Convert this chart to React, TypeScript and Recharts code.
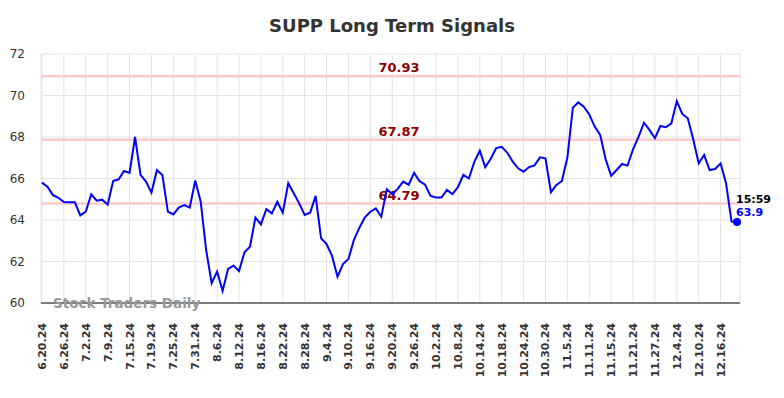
import { LineChart, Line, XAxis, YAxis, CartesianGrid, ReferenceLine } from 'recharts';

// trading days shown on the chart
const dates = [
  '6.20.24', '6.21.24', '6.24.24', '6.25.24', '6.26.24', '6.27.24', '6.28.24',
  '7.1.24', '7.2.24', '7.3.24', '7.5.24', '7.8.24', '7.9.24', '7.10.24', '7.11.24', '7.12.24',
  '7.15.24', '7.16.24', '7.17.24', '7.18.24', '7.19.24', '7.22.24', '7.23.24', '7.24.24',
  '7.25.24', '7.26.24', '7.29.24', '7.30.24', '7.31.24',
  '8.1.24', '8.2.24', '8.5.24', '8.6.24', '8.7.24', '8.8.24', '8.9.24', '8.12.24', '8.13.24',
  '8.14.24', '8.15.24', '8.16.24', '8.19.24', '8.20.24', '8.21.24', '8.22.24', '8.23.24',
  '8.26.24', '8.27.24', '8.28.24', '8.29.24', '8.30.24',
  '9.3.24', '9.4.24', '9.5.24', '9.6.24', '9.9.24', '9.10.24', '9.11.24', '9.12.24', '9.13.24',
  '9.16.24', '9.17.24', '9.18.24', '9.19.24', '9.20.24', '9.23.24', '9.24.24', '9.25.24',
  '9.26.24', '9.27.24', '9.30.24',
  '10.1.24', '10.2.24', '10.3.24', '10.4.24', '10.7.24', '10.8.24', '10.9.24', '10.10.24',
  '10.11.24', '10.14.24', '10.15.24', '10.16.24', '10.17.24', '10.18.24', '10.21.24',
  '10.22.24', '10.23.24', '10.24.24', '10.25.24', '10.28.24', '10.29.24', '10.30.24', '10.31.24',
  '11.1.24', '11.4.24', '11.5.24', '11.6.24', '11.7.24', '11.8.24', '11.11.24', '11.12.24',
  '11.13.24', '11.14.24', '11.15.24', '11.18.24', '11.19.24', '11.20.24', '11.21.24',
  '11.22.24', '11.25.24', '11.26.24', '11.27.24', '11.29.24',
  '12.2.24', '12.3.24', '12.4.24', '12.5.24', '12.6.24', '12.9.24', '12.10.24', '12.11.24',
  '12.12.24', '12.13.24', '12.16.24', '12.17.24', '12.18.24', '12.19.24',
];

const prices = [
  65.8, 65.6, 65.2, 65.07, 64.87, 64.85, 64.85, 64.22, 64.4, 65.24,
  64.93, 64.98, 64.74, 65.88, 65.96, 66.36, 66.27, 68.0, 66.18, 65.85,
  65.32, 66.4, 66.17, 64.4, 64.27, 64.6, 64.72, 64.6, 65.9, 64.88,
  62.55, 60.95, 61.51, 60.58, 61.64, 61.8, 61.54, 62.44, 62.71, 64.12,
  63.79, 64.52, 64.32, 64.88, 64.35, 65.77, 65.29, 64.8, 64.24, 64.35,
  65.16, 63.12, 62.84, 62.27, 61.27, 61.88, 62.12, 63.04, 63.63, 64.13,
  64.4, 64.56, 64.16, 65.48, 65.25, 65.5, 65.85, 65.7, 66.27, 65.87,
  65.7, 65.16, 65.09, 65.08, 65.45, 65.25, 65.58, 66.18, 66.0, 66.8,
  67.34, 66.54, 66.95, 67.47, 67.53, 67.25, 66.82, 66.49, 66.33, 66.55,
  66.63, 67.02, 66.97, 65.34, 65.69, 65.88, 67.0, 69.41, 69.67, 69.46,
  69.09, 68.5, 68.1, 66.93, 66.13, 66.41, 66.7, 66.62, 67.41, 68.01,
  68.69, 68.34, 67.94, 68.53, 68.47, 68.66, 69.73, 69.11, 68.9, 67.89,
  66.73, 67.13, 66.41, 66.46, 66.73, 65.77, 63.92, 63.9,
];

const tickLabels = [
  '6.20.24', '6.26.24', '7.2.24', '7.9.24', '7.15.24', '7.19.24', '7.25.24', '7.31.24',
  '8.6.24', '8.12.24', '8.16.24', '8.22.24', '8.28.24', '9.4.24', '9.10.24', '9.16.24',
  '9.20.24', '9.26.24', '10.2.24', '10.8.24', '10.14.24', '10.18.24', '10.24.24', '10.30.24',
  '11.5.24', '11.11.24', '11.15.24', '11.21.24', '11.27.24', '12.4.24', '12.10.24', '12.16.24',
];

const yTicks = [60, 62, 64, 66, 68, 70, 72];
const levels = [70.93, 67.87, 64.79];
const lastTime = '15:59';

const data = dates.map((date, i) => ({ i, date, price: prices[i] }));
const xTicks = tickLabels.map((l) => dates.indexOf(l));
const lastIndex = prices.length - 1;

const FONT = '"DejaVu Sans", sans-serif';

const XTick = ({ x, y, payload }: any) => (
  <text
    x={x}
    y={y}
    transform={`rotate(-90, ${x}, ${y})`}
    textAnchor="end"
    dy="0.36em"
    fontSize={11}
    fontWeight="bold"
    fill="#333"
    fontFamily={FONT}
  >
    {dates[payload.value]}
  </text>
);

const LevelLabel = ({ viewBox, value }: any) => (
  <text
    x={399}
    y={viewBox.y - 4}
    textAnchor="middle"
    fontSize={13}
    fontWeight="bold"
    fill="#8b0000"
    fontFamily={FONT}
  >
    {value}
  </text>
);

const LastDot = (props: any) => {
  const { cx, cy, index } = props;
  if (index !== lastIndex) return <g key={index} />;
  return (
    <g key={index}>
      <circle cx={cx} cy={cy} r={4} fill="#0000ff" />
      <text x={cx - 1} y={cy - 19} fontSize={11} fontWeight="bold" fill="#000" fontFamily={FONT}>
        {lastTime}
      </text>
      <text x={cx - 1} y={cy - 6} fontSize={11} fontWeight="bold" fill="#0000ff" fontFamily={FONT}>
        {prices[lastIndex]}
      </text>
    </g>
  );
};

export default function App() {
  return (
    <div style={{ position: 'absolute', left: 0, top: 0, width: 784, height: 398, background: '#fff' }}>
      <LineChart width={784} height={398} data={data} margin={{ top: 54, right: 44, bottom: 15, left: 0 }}>
        <CartesianGrid stroke="#e3e3e3" strokeWidth={1} />
        <XAxis
          dataKey="i"
          type="number"
          domain={[0, lastIndex]}
          ticks={xTicks}
          interval={0}
          padding={{ left: 1, right: 3 }}
          height={80}
          tick={<XTick />}
          tickLine={false}
          tickSize={0}
          tickMargin={20}
          axisLine={{ stroke: '#555', strokeWidth: 1.5 }}
        />
        <YAxis
          domain={[60, 72]}
          ticks={yTicks}
          width={41}
          axisLine={false}
          tickLine={false}
          tickSize={0}
          tickMargin={16}
          tick={{ fontSize: 12, fill: '#333', fontFamily: FONT }}
        />
        {levels.map((v) => (
          <ReferenceLine
            key={v}
            y={v}
            stroke="#ffcaca"
            strokeWidth={2.5}
            label={<LevelLabel value={v.toFixed(2)} />}
          />
        ))}
        <Line
          type="linear"
          dataKey="price"
          stroke="#0000ff"
          strokeWidth={2}
          dot={LastDot}
          activeDot={false}
          isAnimationActive={false}
        />
      </LineChart>
      <svg
        width={784}
        height={398}
        style={{ position: 'absolute', left: 0, top: 0, pointerEvents: 'none' }}
      >
        <text x={392} y={32} textAnchor="middle" fontSize={18} fontWeight="bold" fill="#333" fontFamily={FONT}>
          SUPP Long Term Signals
        </text>
        <text x={53} y={308} fontSize={13.5} fontWeight="bold" fill="#999" fontFamily={FONT}>
          Stock Traders Daily
        </text>
      </svg>
    </div>
  );
}
